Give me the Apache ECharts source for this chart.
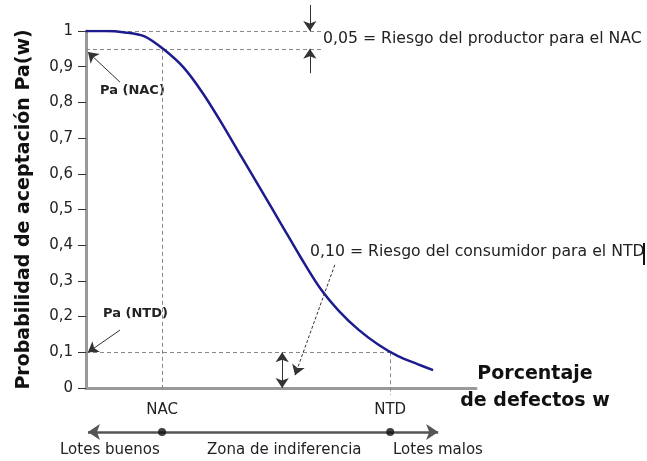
<!DOCTYPE html>
<html>
<head>
<meta charset="utf-8">
<script src="https://cdn.jsdelivr.net/npm/echarts@6/dist/echarts.min.js"></script>
<style>
  html, body { margin: 0; padding: 0; background: #fff; }
  #main { width: 647px; height: 461px; }
</style>
</head>
<body>
<div id="main"></div>
<script>
// curva OC: porcentaje de defectos w (escala relativa) y Pa(w)
const wVals = [0, 5, 10, 15, 20, 25, 30, 35, 40, 45, 50, 55, 60, 65, 70, 75, 80, 85, 89];
const paVals = [1.0, 1.0, 0.996, 0.985, 0.948, 0.898, 0.825, 0.738, 0.645, 0.553, 0.46, 0.367, 0.28, 0.214, 0.162, 0.121, 0.089, 0.067, 0.05];
const yTicks = [0, 0.1, 0.2, 0.3, 0.4, 0.5, 0.6, 0.7, 0.8, 0.9, 1];

const NAC = 19.5;
const NTD = 78;
const alpha = 0.05;  // riesgo del productor
const beta = 0.10;   // riesgo del consumidor

const riskX = 57.4;      // flechas del riesgo del productor
const riskLineEnd = 60.8;
const betaX = 50.3;      // flecha doble riesgo consumidor
const zoneY = -0.123;    // linea de zonas bajo el eje
const zoneEnds = [0.5, 90.3];

const fmt = v => (v === 0 || v === 1) ? String(v) : v.toFixed(1).replace('.', ',');

const font = 'DejaVu Sans';
const txt = '#222';

const option = {
  animation: false,
  backgroundColor: '#fff',
  grid: { left: 86, right: 171, top: 31, bottom: 73 },
  xAxis: {
    type: 'value',
    min: 0,
    max: 100,
    name: 'Porcentaje\nde defectos w',
    nameLocation: 'end',
    nameGap: 59,
    nameTextStyle: {
      fontFamily: font, fontSize: 19, fontWeight: 'bold', color: '#111',
      align: 'center', verticalAlign: 'middle', lineHeight: 27, padding: [0, 0, -2, 0]
    },
    axisLine: { lineStyle: { color: '#999', width: 3 } },
    axisTick: { show: false },
    splitLine: { show: false },
    axisLabel: {
      customValues: [NAC, NTD],
      formatter: v => (v === NAC ? 'NAC' : 'NTD'),
      margin: 15,
      fontFamily: font, fontSize: 15, color: txt
    }
  },
  yAxis: {
    type: 'value',
    min: 0,
    max: 1,
    interval: 0.1,
    name: 'Probabilidad de aceptación Pa(w)',
    nameLocation: 'middle',
    nameGap: 52,
    nameTextStyle: { fontFamily: font, fontSize: 19, fontWeight: 'bold', color: '#111' },
    axisLine: { show: true, lineStyle: { color: '#999', width: 3 } },
    axisTick: { show: true, length: 8, lineStyle: { color: '#333', width: 1 } },
    splitLine: { show: false },
    axisLabel: {
      customValues: yTicks,
      formatter: fmt,
      margin: 13,
      fontFamily: font, fontSize: 15, color: txt
    }
  },
  series: [
    {
      // lineas de referencia punteadas
      type: 'lines',
      coordinateSystem: 'cartesian2d',
      clip: false,
      z: 1,
      symbol: 'none',
      lineStyle: { color: '#888', width: 1, type: [4, 3], opacity: 1 },
      data: [
        { coords: [[0, 1], [riskLineEnd, 1]] },
        { coords: [[0, 1 - alpha], [riskLineEnd, 1 - alpha]] },
        { coords: [[NAC, 1 - alpha], [NAC, -0.01]] },
        { coords: [[0, beta], [NTD, beta]] },
        { coords: [[NTD, beta], [NTD, -0.02]] }
      ]
    },
    {
      type: 'line',
      data: wVals.map((w, i) => [w, paVals[i]]),
      smooth: 0.3,
      showSymbol: false,
      z: 3,
      lineStyle: { color: '#1c1c8e', width: 2.5 }
    },
    {
      // flechas simples
      type: 'lines',
      coordinateSystem: 'cartesian2d',
      clip: false,
      z: 4,
      symbol: ['none', 'arrow'],
      symbolSize: 10,
      lineStyle: { color: '#333', width: 1, opacity: 1 },
      data: [
        { coords: [[riskX, 1.073], [riskX, 1]] },
        { coords: [[riskX, 0.882], [riskX, 1 - alpha]] },
        { coords: [[8.7, 0.857], [0.5, 0.941]] },
        { coords: [[8.7, 0.162], [0.5, beta]] },
        { coords: [[63.8, 0.345], [53.6, 0.036]], lineStyle: { type: [3, 2] } }
      ]
    },
    {
      // flecha doble del riesgo del consumidor
      type: 'lines',
      coordinateSystem: 'cartesian2d',
      clip: false,
      z: 4,
      symbol: ['arrow', 'arrow'],
      symbolSize: 10,
      lineStyle: { color: '#333', width: 1, opacity: 1 },
      data: [{ coords: [[betaX, beta], [betaX, 0]] }]
    },
    {
      // linea de zonas
      type: 'lines',
      coordinateSystem: 'cartesian2d',
      clip: false,
      z: 4,
      symbol: ['arrow', 'arrow'],
      symbolSize: 12,
      lineStyle: { color: '#555', width: 2.5, opacity: 1 },
      data: [{ coords: [[zoneEnds[0], zoneY], [zoneEnds[1], zoneY]] }]
    },
    {
      type: 'scatter',
      clip: false,
      z: 5,
      symbolSize: 8,
      itemStyle: { color: '#111' },
      data: [[NAC, zoneY], [NTD, zoneY]]
    }
  ],
  graphic: [
    { type: 'text', left: 323, top: 31, style: { text: '0,05 = Riesgo del productor para el NAC', font: '15.7px "DejaVu Sans"', fill: txt } },
    { type: 'text', left: 310, top: 244, style: { text: '0,10 = Riesgo del consumidor para el NTD', font: '15.7px "DejaVu Sans"', fill: txt } },
    { type: 'rect', left: 643, top: 243, shape: { width: 2, height: 22 }, style: { fill: '#111' } },
    { type: 'text', left: 100, top: 84, style: { text: 'Pa (NAC)', font: 'bold 13px "DejaVu Sans"', fill: txt } },
    { type: 'text', left: 103, top: 307, style: { text: 'Pa (NTD)', font: 'bold 13px "DejaVu Sans"', fill: txt } },
    { type: 'text', left: 60, top: 443, style: { text: 'Lotes buenos', font: '15px "DejaVu Sans"', fill: txt } },
    { type: 'text', left: 207, top: 443, style: { text: 'Zona de indiferencia', font: '15px "DejaVu Sans"', fill: txt } },
    { type: 'text', left: 393, top: 443, style: { text: 'Lotes malos', font: '15px "DejaVu Sans"', fill: txt } }
  ]
};

const chart = echarts.init(document.getElementById('main'), null, { renderer: 'canvas' });
chart.setOption(option);
</script>
</body>
</html>
